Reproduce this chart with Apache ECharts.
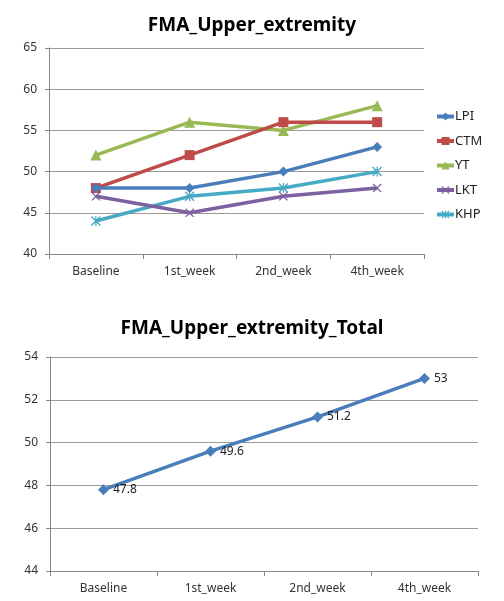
<!DOCTYPE html>
<html><head><meta charset="utf-8">
<script src="https://cdn.jsdelivr.net/npm/echarts@6/dist/echarts.min.js"></script>
<style>html,body{margin:0;padding:0;background:#fff}#c{width:504px;height:601px}</style>
</head><body><div id="c"></div>
<script>
const categories = ['Baseline', '1st_week', '2nd_week', '4th_week'];
const seriesNames = ['LPI', 'CTM', 'YT', 'LKT', 'KHP'];
const LPI = [48, 48, 50, 53];
const CTM = [48, 52, 56, 56];
const YT  = [52, 56, 55, 58];
const LKT = [47, 45, 47, 48];
const KHP = [44, 47, 48, 50];
const totalValues = [47.8, 49.6, 51.2, 53];
const topTicks = [40, 45, 50, 55, 60, 65];
const bottomTicks = [44, 46, 48, 50, 52, 54];

const colors = ['#4A7EBB', '#BE4B48', '#98B954', '#7D60A0', '#46AAC5'];
const xPath = 'path://M0,1L1,0L5,4L9,0L10,1L6,5L10,9L9,10L5,6L1,10L0,9L4,5Z';
const starPath = 'path://M0,1L1,0L5,4L9,0L10,1L6,5L10,9L9,10L5,6L1,10L0,9L4,5Z M4.4,0L5.6,0L5.6,10L4.4,10Z';
const symbols = ['diamond', 'rect', 'triangle', xPath, starPath];
const symSizes = [10, 10, 11, 9, 10];
const dataArr = [LPI, CTM, YT, LKT, KHP];
const font = '"Noto Sans", sans-serif';

function xAxis(gi) {
  return {
    type: 'category', gridIndex: gi, data: categories, boundaryGap: true,
    axisLine: { lineStyle: { color: '#888', width: 1 } },
    axisTick: { show: true, length: 5, lineStyle: { color: '#888' } },
    axisLabel: { color: '#333', fontSize: 12, fontFamily: font, margin: 12 }
  };
}
function yAxis(gi, ticks) {
  return {
    type: 'value', gridIndex: gi, min: ticks[0], max: ticks[ticks.length - 1],
    interval: ticks[1] - ticks[0],
    axisLine: { show: true, lineStyle: { color: '#888' } },
    axisTick: { show: true, length: 4, lineStyle: { color: '#888' } },
    splitLine: { lineStyle: { color: '#999', width: 1 } },
    axisLabel: { color: '#333', fontSize: 12, fontFamily: font, margin: 12 }
  };
}

const series = seriesNames.map((n, i) => ({
  name: n, type: 'line', xAxisIndex: 0, yAxisIndex: 0, data: dataArr[i],
  symbol: symbols[i], symbolSize: symSizes[i], showAllSymbol: true,
  lineStyle: { color: colors[i], width: 3.5 },
  itemStyle: { color: colors[i] },
  z: 10 - i
}));
series.push({
  name: 'Total', type: 'line', xAxisIndex: 1, yAxisIndex: 1, data: totalValues,
  symbol: 'diamond', symbolSize: 11,
  lineStyle: { color: '#4A7EBB', width: 3.5 },
  itemStyle: { color: '#4A7EBB' },
  label: { show: true, position: 'right', distance: 4, color: '#222', fontSize: 12, fontFamily: font }
});

const chart = echarts.init(document.getElementById('c'));
chart.setOption({
  animation: false,
  backgroundColor: '#fff',
  title: [
    { text: 'FMA_Upper_extremity', left: 'center', top: 11,
      textStyle: { fontSize: 19, fontWeight: 'bold', color: '#000', fontFamily: font } },
    { text: 'FMA_Upper_extremity_Total', left: 'center', top: 314,
      textStyle: { fontSize: 19, fontWeight: 'bold', color: '#000', fontFamily: font } }
  ],
  legend: {
    data: seriesNames, orient: 'vertical', left: 430, top: 105,
    itemWidth: 17, itemHeight: 10, itemGap: 11.5,
    lineStyle: { width: 4 },
    textStyle: { color: '#222', fontSize: 13, fontFamily: font, padding: [0, 0, 0, -4] }
  },
  grid: [
    { left: 49, top: 48, width: 375, height: 206 },
    { left: 50, top: 357, width: 428, height: 214 }
  ],
  xAxis: [xAxis(0), xAxis(1)],
  yAxis: [yAxis(0, topTicks), yAxis(1, bottomTicks)],
  series: series
});
</script></body></html>
